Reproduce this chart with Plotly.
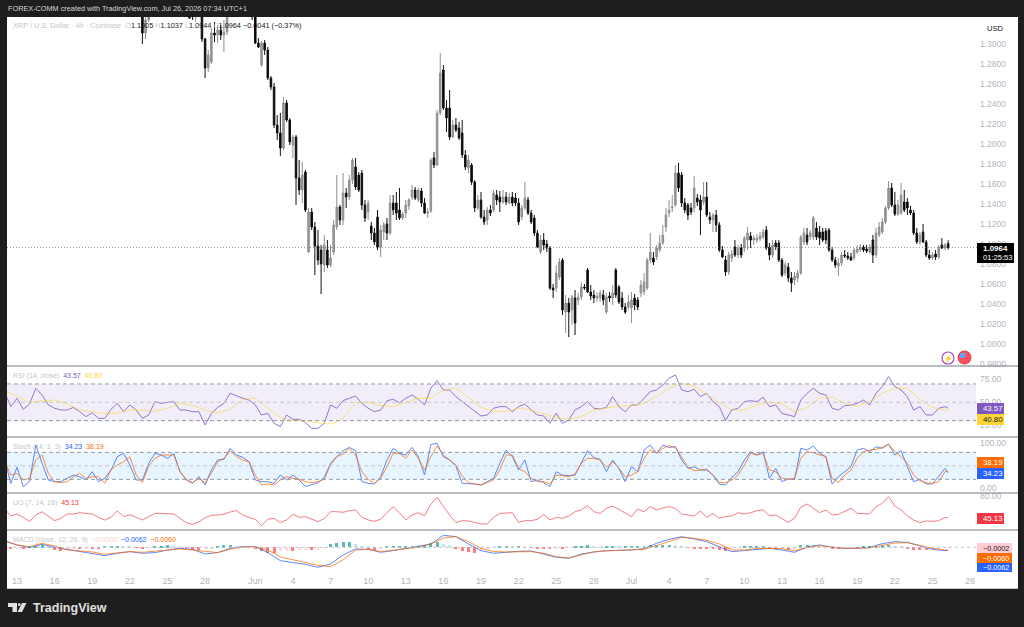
import pandas as pd
import plotly.graph_objects as go

# XRP / USD 4h chart with RSI, Stoch, UO and MACD panes.

#%% Candles (one every 6 h from May 23, the first ones are above the visible range)

candle_open = [
    1.335, 1.311, 1.324, 1.33, 1.34, 1.345, 1.35, 1.355, 1.36, 1.365, 1.36, 1.355, 1.35, 1.345, 1.34, 1.335, 1.33, 1.33, 1.335, 1.334,
    1.305, 1.276, 1.282, 1.311, 1.309, 1.314, 1.309, 1.312, 1.33, 1.345, 1.355, 1.36, 1.355, 1.35, 1.345, 1.335, 1.33, 1.301, 1.279, 1.301,
    1.294, 1.266, 1.257, 1.219, 1.211, 1.196, 1.241, 1.224, 1.199, 1.207, 1.166, 1.154, 1.172, 1.092, 1.132, 1.117, 1.098, 1.094, 1.079, 1.094,
    1.079, 1.092, 1.117, 1.137, 1.124, 1.151, 1.147, 1.164, 1.177, 1.169, 1.171, 1.139, 1.132, 1.118, 1.111, 1.127, 1.097, 1.112, 1.12, 1.111,
    1.141, 1.141, 1.134, 1.126, 1.131, 1.138, 1.147, 1.154, 1.144, 1.153, 1.141, 1.131, 1.133, 1.186, 1.179, 1.231, 1.274, 1.236, 1.236, 1.207,
    1.219, 1.216, 1.211, 1.189, 1.176, 1.179, 1.162, 1.136, 1.144, 1.127, 1.124, 1.134, 1.134, 1.149, 1.147, 1.142, 1.147, 1.141, 1.147, 1.146,
    1.141, 1.127, 1.136, 1.144, 1.131, 1.126, 1.111, 1.092, 1.104, 1.1, 1.096, 1.056, 1.056, 1.067, 1.084, 1.032, 1.041, 1.034, 1.046, 1.044,
    1.047, 1.057, 1.074, 1.052, 1.049, 1.046, 1.046, 1.049, 1.032, 1.048, 1.046, 1.074, 1.057, 1.046, 1.037, 1.037, 1.036, 1.046, 1.044, 1.051,
    1.052, 1.056, 1.084, 1.086, 1.087, 1.094, 1.101, 1.117, 1.131, 1.136, 1.139, 1.171, 1.169, 1.141, 1.139, 1.136, 1.136, 1.146, 1.144, 1.142,
    1.147, 1.127, 1.124, 1.129, 1.119, 1.094, 1.084, 1.072, 1.086, 1.097, 1.089, 1.096, 1.096, 1.104, 1.108, 1.104, 1.104, 1.105, 1.107, 1.114,
    1.097, 1.089, 1.101, 1.101, 1.084, 1.071, 1.077, 1.066, 1.064, 1.066, 1.071, 1.102, 1.109, 1.107, 1.107, 1.116, 1.112, 1.112, 1.113, 1.114,
    1.094, 1.084, 1.078, 1.081, 1.089, 1.088, 1.087, 1.086, 1.092, 1.094, 1.097, 1.095, 1.092, 1.104, 1.089, 1.109, 1.112, 1.122, 1.136, 1.156,
    1.139, 1.13, 1.131, 1.142, 1.142, 1.134, 1.131, 1.111, 1.102, 1.112, 1.102, 1.089, 1.086, 1.09, 1.087, 1.099, 1.096, 1.1005,
]
candle_high = [
    1.34, 1.335, 1.34, 1.345, 1.35, 1.355, 1.36, 1.365, 1.37, 1.37, 1.365, 1.36, 1.355, 1.35, 1.345, 1.34, 1.34, 1.34, 1.345, 1.34,
    1.306, 1.294, 1.316, 1.322, 1.319, 1.319, 1.324, 1.335, 1.35, 1.36, 1.37, 1.37, 1.365, 1.36, 1.355, 1.34, 1.335, 1.306, 1.303, 1.304,
    1.297, 1.268, 1.261, 1.229, 1.231, 1.247, 1.244, 1.226, 1.209, 1.209, 1.184, 1.182, 1.174, 1.136, 1.136, 1.122, 1.114, 1.099, 1.109, 1.104,
    1.099, 1.124, 1.169, 1.139, 1.171, 1.156, 1.169, 1.186, 1.186, 1.172, 1.174, 1.144, 1.144, 1.122, 1.116, 1.134, 1.119, 1.122, 1.126, 1.149,
    1.149, 1.152, 1.156, 1.132, 1.144, 1.146, 1.159, 1.157, 1.156, 1.156, 1.146, 1.136, 1.186, 1.192, 1.234, 1.291, 1.279, 1.244, 1.254, 1.224,
    1.226, 1.222, 1.224, 1.194, 1.189, 1.181, 1.164, 1.149, 1.152, 1.134, 1.137, 1.139, 1.154, 1.154, 1.153, 1.154, 1.152, 1.151, 1.152, 1.151,
    1.146, 1.139, 1.162, 1.147, 1.134, 1.129, 1.114, 1.109, 1.111, 1.104, 1.098, 1.06, 1.079, 1.086, 1.086, 1.049, 1.046, 1.049, 1.054, 1.051,
    1.062, 1.06, 1.076, 1.059, 1.054, 1.052, 1.054, 1.054, 1.051, 1.052, 1.059, 1.076, 1.059, 1.052, 1.041, 1.049, 1.052, 1.05, 1.047, 1.064,
    1.071, 1.086, 1.111, 1.092, 1.099, 1.109, 1.119, 1.136, 1.144, 1.149, 1.179, 1.181, 1.172, 1.146, 1.141, 1.141, 1.168, 1.15, 1.149, 1.162,
    1.162, 1.132, 1.131, 1.134, 1.122, 1.098, 1.088, 1.092, 1.094, 1.104, 1.099, 1.1, 1.108, 1.117, 1.112, 1.109, 1.11, 1.112, 1.115, 1.118,
    1.101, 1.104, 1.104, 1.104, 1.086, 1.082, 1.081, 1.072, 1.072, 1.074, 1.109, 1.116, 1.116, 1.114, 1.128, 1.122, 1.118, 1.116, 1.116, 1.116,
    1.097, 1.087, 1.086, 1.092, 1.094, 1.092, 1.091, 1.096, 1.099, 1.1, 1.099, 1.099, 1.1, 1.109, 1.116, 1.122, 1.126, 1.138, 1.163, 1.161,
    1.152, 1.144, 1.161, 1.154, 1.146, 1.138, 1.134, 1.116, 1.112, 1.12, 1.104, 1.094, 1.092, 1.094, 1.099, 1.106, 1.101, 1.1037,
]
candle_low = [
    1.3, 1.305, 1.322, 1.33, 1.335, 1.34, 1.345, 1.35, 1.355, 1.355, 1.35, 1.345, 1.34, 1.335, 1.33, 1.325, 1.324, 1.322, 1.328, 1.302,
    1.266, 1.272, 1.28, 1.302, 1.301, 1.304, 1.292, 1.309, 1.328, 1.34, 1.35, 1.35, 1.345, 1.34, 1.33, 1.324, 1.3, 1.296, 1.277, 1.289,
    1.264, 1.254, 1.216, 1.204, 1.188, 1.194, 1.222, 1.199, 1.186, 1.139, 1.149, 1.141, 1.132, 1.091, 1.114, 1.069, 1.079, 1.05, 1.072, 1.076,
    1.077, 1.089, 1.114, 1.119, 1.119, 1.136, 1.144, 1.16, 1.154, 1.152, 1.134, 1.122, 1.124, 1.104, 1.099, 1.094, 1.087, 1.104, 1.104, 1.109,
    1.129, 1.124, 1.124, 1.124, 1.126, 1.134, 1.144, 1.144, 1.142, 1.137, 1.13, 1.126, 1.131, 1.176, 1.178, 1.229, 1.234, 1.212, 1.204, 1.206,
    1.212, 1.204, 1.186, 1.174, 1.171, 1.159, 1.132, 1.134, 1.125, 1.119, 1.119, 1.128, 1.132, 1.139, 1.132, 1.14, 1.139, 1.14, 1.138, 1.138,
    1.119, 1.124, 1.134, 1.129, 1.12, 1.108, 1.096, 1.09, 1.094, 1.092, 1.054, 1.046, 1.052, 1.064, 1.029, 1.011, 1.007, 1.019, 1.009, 1.039,
    1.044, 1.054, 1.051, 1.044, 1.041, 1.042, 1.042, 1.039, 1.03, 1.042, 1.039, 1.046, 1.04, 1.034, 1.03, 1.034, 1.021, 1.034, 1.034, 1.047,
    1.049, 1.054, 1.081, 1.079, 1.084, 1.092, 1.099, 1.112, 1.127, 1.132, 1.137, 1.152, 1.137, 1.131, 1.124, 1.129, 1.132, 1.138, 1.109, 1.139,
    1.127, 1.12, 1.112, 1.112, 1.092, 1.086, 1.068, 1.069, 1.082, 1.087, 1.086, 1.086, 1.092, 1.094, 1.096, 1.099, 1.101, 1.103, 1.105, 1.094,
    1.084, 1.086, 1.094, 1.082, 1.067, 1.068, 1.062, 1.052, 1.059, 1.062, 1.069, 1.099, 1.099, 1.104, 1.104, 1.104, 1.099, 1.102, 1.1, 1.092,
    1.082, 1.076, 1.068, 1.078, 1.086, 1.084, 1.083, 1.084, 1.09, 1.092, 1.092, 1.091, 1.09, 1.081, 1.086, 1.107, 1.11, 1.12, 1.134, 1.137,
    1.128, 1.128, 1.129, 1.132, 1.129, 1.129, 1.109, 1.1, 1.099, 1.101, 1.087, 1.084, 1.084, 1.084, 1.085, 1.095, 1.094, 1.0944,
]
candle_close = [
    1.311, 1.324, 1.33, 1.34, 1.345, 1.35, 1.355, 1.36, 1.365, 1.36, 1.355, 1.35, 1.345, 1.34, 1.335, 1.326, 1.328, 1.33, 1.34, 1.305,
    1.276, 1.289, 1.311, 1.309, 1.314, 1.309, 1.312, 1.33, 1.345, 1.355, 1.36, 1.355, 1.35, 1.345, 1.335, 1.327, 1.301, 1.297, 1.301, 1.294,
    1.266, 1.257, 1.219, 1.211, 1.196, 1.241, 1.224, 1.202, 1.207, 1.166, 1.154, 1.169, 1.134, 1.132, 1.117, 1.098, 1.084, 1.08, 1.099, 1.079,
    1.086, 1.119, 1.137, 1.124, 1.151, 1.147, 1.164, 1.184, 1.157, 1.154, 1.139, 1.126, 1.141, 1.111, 1.102, 1.097, 1.114, 1.119, 1.111, 1.141,
    1.134, 1.131, 1.126, 1.13, 1.139, 1.144, 1.154, 1.146, 1.154, 1.141, 1.131, 1.132, 1.184, 1.179, 1.231, 1.271, 1.236, 1.226, 1.207, 1.219,
    1.214, 1.206, 1.189, 1.177, 1.184, 1.162, 1.136, 1.144, 1.127, 1.122, 1.134, 1.131, 1.151, 1.144, 1.142, 1.147, 1.142, 1.147, 1.141, 1.141,
    1.122, 1.136, 1.146, 1.131, 1.122, 1.111, 1.097, 1.104, 1.099, 1.096, 1.056, 1.054, 1.071, 1.082, 1.034, 1.041, 1.032, 1.047, 1.021, 1.047,
    1.057, 1.056, 1.052, 1.048, 1.046, 1.048, 1.051, 1.044, 1.047, 1.046, 1.051, 1.049, 1.042, 1.037, 1.032, 1.042, 1.044, 1.039, 1.037, 1.059,
    1.062, 1.084, 1.092, 1.082, 1.096, 1.101, 1.109, 1.129, 1.134, 1.137, 1.171, 1.156, 1.141, 1.134, 1.129, 1.132, 1.156, 1.142, 1.134, 1.147,
    1.129, 1.124, 1.129, 1.119, 1.094, 1.087, 1.072, 1.089, 1.09, 1.089, 1.096, 1.089, 1.106, 1.111, 1.104, 1.106, 1.106, 1.108, 1.112, 1.096,
    1.089, 1.099, 1.097, 1.084, 1.069, 1.079, 1.066, 1.061, 1.068, 1.071, 1.107, 1.111, 1.102, 1.111, 1.126, 1.107, 1.106, 1.104, 1.104, 1.094,
    1.084, 1.079, 1.081, 1.089, 1.088, 1.086, 1.084, 1.094, 1.095, 1.097, 1.094, 1.093, 1.097, 1.089, 1.111, 1.117, 1.122, 1.136, 1.156, 1.139,
    1.13, 1.139, 1.149, 1.134, 1.136, 1.131, 1.111, 1.102, 1.109, 1.102, 1.089, 1.086, 1.089, 1.087, 1.097, 1.096, 1.099, 1.0964,
]

#%% Indicators (12 h steps from May 12, smooth lines in 1 day steps)

rsi = [
    61.6, 45.3, 54.4, 42.4, 48.2, 65.3, 58, 47.1, 43.5, 41.6, 41.6, 44.5, 39.8, 34.4, 38.7, 32.5, 32.5, 42.4, 48.9, 39.8,
    47.1, 41.6, 32.5, 36.1, 50.7, 48.9, 50, 50.7, 41.6, 41.6, 39.8, 39.8, 25.3, 38, 44.5, 48.9, 59.8, 56.9, 54.4, 52.5,
    47.1, 36.2, 38, 27.1, 23.5, 36.2, 31.5, 31.5, 27.8, 21.6, 21.6, 27.1, 47.1, 43.5,
    51.8, 54.4, 56.9, 48.9, 43.5, 39.8, 41.6, 51.8, 53.3, 49.6, 54.4, 58, 53.3, 47.1, 65.3, 73.6, 63.5, 63.5, 56.2, 50.7,
    45.3, 39.8, 35.1, 36.2, 43.5, 45.3, 45.3, 39.8, 45.3, 48.2, 41.6, 36.2, 35.1, 27.1, 38, 27.1, 30.7, 41.6, 45.3, 50.7,
    43.5, 42.7, 44.5, 56.2, 45.3, 39.8, 47.1, 47.1, 54.4, 61.6, 63.5, 68.9, 76.2, 79.8,
    63.5, 61.6, 64.2, 56.2, 59.8, 50.7, 45.3, 30, 41.6, 43.5, 50.7, 51.8, 50.7, 55.5, 45.3, 47.1, 38, 36.2, 34.4, 52.5,
    59.8, 65.3, 59.8, 58, 43.5, 41.6, 46.4, 47.1, 48.9, 52.5, 47.1, 59.8, 67.1, 78, 67.1, 63.5, 56.2, 41.6, 45.3, 36.2,
    36.2, 43.5, 45.3, 43.57,
]
rsi_ma = [
    62.7, 56.2, 50, 51.5, 52.5, 48.2, 41.6, 39.5, 38, 38, 41.6, 41.6, 40.5, 43.5, 48.9, 46.4, 41.6, 38.7, 42.4, 53.3,
    54.4, 43.5, 33.6, 30, 30, 27.8, 26.4,
    32.5, 49.6, 50, 46.4, 45.3, 49.6, 54.4, 54.4, 63.5, 65.3, 55.5, 44.5, 40.5, 39.8, 43.5, 41.6, 37.3, 33.3, 31.5, 34.4,
    41.6, 44.2, 46, 46, 48.9, 56.2, 65.3,
    70.7, 67.8, 58.7, 49.6, 41.6, 41.6, 47.1, 50, 48.2, 39.8, 44.2, 54.4, 55.5, 48.9, 46, 50.7, 59.8, 65.3, 65.3, 53.3,
    44.5, 40.9, 40.8,
]
stoch_k = [
    66.7, 11.1, 46.7, 3.7, 14.8, 96.3, 55.6, 18.5, 14.8, 14.8, 22.2, 29.6, 25.9, 18.5, 37, 14.8, 22.2, 40.7, 70.4, 77.8,
    51.9, 18.5, 18.5, 55.6, 77.8, 74.1, 66.7, 77.8, 37, 18.5, 11.1, 25.9, 7.4, 40.7, 63, 64.4, 88.9, 74.1, 68.9, 59.3,
    18.5, 14.8, 14.8, 11.1, 29.6, 18.5, 29.6, 18.5, 3.7, 7.4, 12.6, 24.4, 55.6, 70.4,
    83.7, 91.1, 83.7, 14.8, 11.1, 9.6, 25.9, 63, 88.9, 77.8, 74.1, 91.1, 70.4, 29.6, 97.8, 100, 70.4, 63, 49.6, 11.1,
    11.1, 9.6, 7.4, 14.8, 22.2, 55.6, 85.2, 70.4, 40.7, 63, 14.8, 18.5, 12.6, 3.7, 37, 29.6, 28.1, 29.6, 55.6, 83.7,
    68.1, 64.4, 37, 63, 44.4, 14.8, 48.1, 37, 85.2, 96.3, 77.8, 96.3, 91.1, 92.6,
    63, 44.4, 48.1, 40.7, 40.7, 29.6, 9.6, 7.4, 24.4, 37, 63, 81.5, 74.1, 81.5, 22.2, 44.4, 14.8, 20.7, 20, 88.9,
    85.2, 94.1, 77.8, 70.4, 9.6, 25.9, 37, 48.1, 85.2, 88.9, 81.5, 92.6, 88.9, 98.5, 74.1, 83.7, 48.1, 14.8, 20, 9.6,
    9.6, 25.9, 44.4, 34.23,
]
stoch_d = [
    63, 29.6, 33.3, 18.5, 22.2, 63, 74.1, 33.3, 14.8, 12.6, 14.8, 25.9, 33.3, 22.2, 25.9, 25.9, 11.1, 42.2, 51.9, 59.3,
    70.4, 29.6, 12.6, 49.6, 66.7, 74.1, 74.1, 74.1, 37, 20, 12.6, 22.2, 12.6, 33.3, 59.3, 66.7, 83.7, 70.4, 63, 59.3,
    29.6, 7.4, 9.6, 7.4, 18.5, 25.9, 22.2, 20, 14.8, 12.6, 14.8, 20, 51.9, 70.4,
    76.3, 88.9, 74.1, 37, 20, 11.1, 22.2, 48.1, 77.8, 77.8, 66.7, 85.2, 66.7, 40.7, 70.4, 94.1, 74.1, 63, 51.9, 27.4,
    12.6, 9.6, 7.4, 12.6, 18.5, 40.7, 74.1, 74.1, 44.4, 37, 22.2, 14.8, 14.8, 9.6, 29.6, 28.1, 25.9, 31.9, 55.6, 66.7,
    66.7, 63, 46.7, 59.3, 44.4, 25.9, 29.6, 37, 66.7, 85.2, 79.3, 88.9, 94.8, 91.1,
    70.4, 46.7, 39.3, 40.7, 43, 29.6, 12.6, 12.6, 18.5, 29.6, 51.9, 77.8, 74.1, 77.8, 40.7, 37, 22.2, 20, 22.2, 66.7,
    81.5, 79.3, 74.1, 70.4, 22.2, 12.6, 29.6, 40.7, 66.7, 81.5, 85.2, 86.7, 91.1, 98.5, 81.5, 70.4, 55.6, 29.6, 17, 12.6,
    11.1, 14.8, 37, 38.19,
]
uo = [
    60.4, 48.3, 51.4, 46.1, 39.3, 49.8, 55.1, 47.2, 40.8, 44.6, 51.4, 51.4, 53.5, 52.4, 51.4, 46.1, 41.9, 46.1, 56.7, 47.2,
    50.4, 46.1, 41.9, 47.2, 52.4, 52.4, 51.4, 51.4, 44.6, 37.7, 35, 38.7, 45.6, 49.3, 49.8, 50.9, 54.6, 56.7, 49.8, 45.6,
    43, 32.9, 43, 44.6, 37.7, 41.9, 50.9, 46.1, 47.2, 43, 39.3, 44, 55.1, 55.1,
    54.1, 56.7, 57.8, 46.1, 41.9, 39.8, 43, 53.5, 63.1, 53.5, 41.9, 49.8, 53.5, 48.3, 66.8, 77.9, 63.1, 49.8, 37.7, 40.8,
    40.3, 37.7, 35.6, 35.6, 46.1, 52.4, 53.5, 53.5, 38.2, 40.8, 40.8, 43, 50.9, 41.9, 46.1, 44.6, 48.3, 55.1, 57.8, 64.7,
    55.1, 52.4, 60.4, 64.1, 58.8, 52.4, 47.2, 59.4, 55.1, 63.1, 57.8, 61, 63.1, 60.4,
    51.4, 49.8, 48.3, 56.2, 46.1, 52.4, 44.6, 47.2, 48.3, 53.5, 51.4, 53.5, 56.7, 57.8, 48.8, 49.8, 44.6, 38.2, 44.6, 62,
    67.3, 60.4, 53.5, 57.8, 49.8, 50.9, 56.2, 60.4, 52.4, 52.4, 51.4, 63.1, 68.4, 78.9, 64.1, 57.8, 48.3, 41.9, 37.7, 40.3,
    39.8, 40.8, 46.1, 45.13,
]
macd_line = [
    .0139, .0049, -.0007, .0063, 0, -.0042, -.0090, -.0125, -.0174, -.0125, -.0090, -.0125, -.0111, -.0056, -.0021, -.0042,
    -.0139, -.0111, -.0021, .0014, .0014, -.0111, -.0278, -.0319, -.0354, -.0417, -.0347,
    -.0160, -.0035, -.0042, -.0104, -.0069, -.0021, .0028, .0069, .0250, .0222, .0069, -.0069, -.0125, -.0097, -.0083, -.0076,
    -.0139, -.0208, -.0229, -.0139, -.0097, -.0069, -.0063, -.0056, -.0028, .0083, .0167,
    .0222, .0174, .0118, .0014, -.0090, -.0069, -.0042, -.0021, -.0056, -.0104, .0007, .0049, 0, -.0021, -.0021, 0,
    .0076, .0118, .0104, .0035, -.0042, -.0069, -.0062,
]
macd_signal = [
    .0125, .0049, .0014, .0083, .0028, -.0056, -.0076, -.0097, -.0146, -.0125, -.0090, -.0104, -.0076, -.0049, -.0035, -.0056,
    -.0090, -.0111, -.0042, .0007, .0014, -.0056, -.0201, -.0264, -.0319, -.0375, -.0403,
    -.0264, -.0056, -.0042, -.0090, -.0056, -.0028, 0, .0069, .0194, .0222, .0118, -.0021, -.0090, -.0097, -.0090, -.0090,
    -.0125, -.0194, -.0222, -.0160, -.0097, -.0076, -.0063, -.0056, -.0042, .0035, .0118,
    .0208, .0188, .0146, .0069, -.0056, -.0056, -.0028, -.0021, -.0028, -.0069, -.0007, .0035, .0007, -.0021, -.0021, -.0014,
    .0042, .0090, .0097, .0035, -.0021, -.0056, -.0060,
]
macd_hist = [
    -.003, -.004, -.002, -.004, .001, .002, .004, .003, -.006, -.007, -.004, -.003, -.004, -.002, -.002, -.003, .001, .002, .003, .002,
    .001, -.001, -.004, -.003, .002, .003, .004, .002, .001, -.001, -.005, -.006, -.004, -.002, .002, .004, .004, .003, .001, -.001,
    -.003, -.008, -.011, -.011, -.008, -.007, -.007, -.006, -.005, -.006, -.005, -.001, .006, .009,
    .011, .011, .007, .003, -.004, -.006, -.003, .001, .002, .002, .002, .003, .003, .004, .010, .012, .007, .004, -.003, -.007,
    -.010, -.011, -.005, -.003, -.001, .002, .002, .001, .001, -.001, -.001, -.002, -.002, -.003, -.002, -.002, -.001, .001, .002, .004,
    .003, .002, .002, .002, .001, .001, .001, .002, .003, .004, .004, .004, .005, .004,
    .002, -.001, -.002, -.002, -.002, -.003, -.006, -.008, -.004, -.001, .001, .002, .002, .002, -.002, -.004, -.003, -.005, -.002, .004,
    .005, .004, .003, .001, -.003, -.004, -.002, -.001, -.001, .001, .001, .002, .004, .005, .002, .001, -.002, -.005, -.005, -.006,
    -.005, -.002, -.001, -.0002,
]

#%% Axis ticks and labels

date_ticks = ["2026-05-13", "2026-05-16", "2026-05-19", "2026-05-22", "2026-05-25", "2026-05-28", "2026-06-01", "2026-06-04",
              "2026-06-07", "2026-06-10", "2026-06-13", "2026-06-16", "2026-06-19", "2026-06-22", "2026-06-25", "2026-06-28",
              "2026-07-01", "2026-07-04", "2026-07-07", "2026-07-10", "2026-07-13", "2026-07-16", "2026-07-19", "2026-07-22",
              "2026-07-25", "2026-07-28"]
date_labels = ["13", "16", "19", "22", "25", "28", "Jun", "4", "7", "10", "13", "16", "19", "22", "25", "28", "Jul", "4", "7",
               "10", "13", "16", "19", "22", "25", "28"]
price_ticks = [0.98 + 0.02 * i for i in range(17)]
last_price = 1.0964

TV_FONT = "Liberation Sans"
AXIS_GREY = "#b2b5be"
SEP_GREY = "#787b86"
LEGEND_GREY = "#c4c6cc"


def px(x):
    return x / 1024


def py(y):
    return 1 - y / 627


def timed(start, freq, values):
    # last value of every indicator is the open 4h bar, Jul 26 06:00
    times = pd.date_range(start, periods=len(values), freq=freq)
    return times[:-1].append(pd.DatetimeIndex(["2026-07-26 06:00"]))


candle_times = pd.date_range("2026-05-23", periods=len(candle_close), freq="6h")
t_rsi, t_k, t_d = timed("2026-05-12", "12h", rsi), timed("2026-05-12", "12h", stoch_k), timed("2026-05-12", "12h", stoch_d)
t_uo, t_hist = timed("2026-05-12", "12h", uo), timed("2026-05-12", "12h", macd_hist)
t_ma = timed("2026-05-12", "1D", rsi_ma)
t_macd, t_sig = timed("2026-05-12", "1D", macd_line), timed("2026-05-12", "1D", macd_signal)

hist_colors = []
for i, v in enumerate(macd_hist):
    prev = macd_hist[i - 1] if i else 0
    if v >= 0:
        hist_colors.append("#26a69a" if v >= prev else "#b2dfdb")
    else:
        hist_colors.append("#ff5252" if v <= prev else "#ffcdd2")

#%% Traces

fig = go.Figure()
fig.add_trace(go.Candlestick(
    x=candle_times, open=candle_open, high=candle_high, low=candle_low, close=candle_close,
    increasing=dict(line=dict(color="#8f8f8f", width=1), fillcolor="#9a9a9a"),
    decreasing=dict(line=dict(color="#111111", width=1), fillcolor="#000000"),
    whiskerwidth=0, yaxis="y",
))
fig.add_trace(go.Scatter(x=t_rsi, y=rsi, yaxis="y2", mode="lines", opacity=0.8, line=dict(color="#7e57c2", width=1)))
fig.add_trace(go.Scatter(x=t_ma, y=rsi_ma, yaxis="y2", mode="lines", opacity=0.6, line=dict(color="#fdd835", width=1)))
fig.add_trace(go.Scatter(x=t_k, y=stoch_k, yaxis="y3", mode="lines", opacity=0.75, line=dict(color="#2962ff", width=1)))
fig.add_trace(go.Scatter(x=t_d, y=stoch_d, yaxis="y3", mode="lines", opacity=0.75, line=dict(color="#ff6d00", width=1)))
fig.add_trace(go.Scatter(x=t_uo, y=uo, yaxis="y4", mode="lines", opacity=0.65, line=dict(color="#f23645", width=1)))
fig.add_trace(go.Bar(x=t_hist, y=macd_hist, yaxis="y5", opacity=0.75, marker=dict(color=hist_colors, line=dict(width=0)),
                     width=2.0e7))
fig.add_trace(go.Scatter(x=t_macd, y=macd_line, yaxis="y5", mode="lines", opacity=0.75, line=dict(color="#2962ff", width=1)))
fig.add_trace(go.Scatter(x=t_sig, y=macd_signal, yaxis="y5", mode="lines", opacity=0.75, line=dict(color="#ff6d00", width=1)))

#%% Shapes: frame, separators, bands

shapes = [dict(type="rect", xref="paper", yref="paper", x0=px(7), x1=px(1018), y0=py(589), y1=py(17),
               fillcolor="#ffffff", line=dict(width=0), layer="below")]
for sep_y in [366, 437, 493, 530]:
    shapes.append(dict(type="line", xref="paper", yref="paper", x0=px(7), x1=px(1018), y0=py(sep_y), y1=py(sep_y),
                       line=dict(color=SEP_GREY, width=1.2)))
shapes.append(dict(type="line", xref="paper", yref="paper", x0=px(7), x1=px(1018), y0=py(588.5), y1=py(588.5),
                   line=dict(color="#c8c8c8", width=1)))
for axis, low, high, fill in [("y2", 30, 70, "rgba(126,87,194,0.1)"), ("y3", 20, 80, "rgba(33,150,243,0.1)")]:
    shapes.append(dict(type="rect", xref="paper", yref=axis, x0=px(7), x1=px(976), y0=low, y1=high,
                       fillcolor=fill, line=dict(width=0), layer="below"))
for axis, level in [("y2", 70), ("y2", 50), ("y2", 30), ("y3", 80), ("y3", 50), ("y3", 20)]:
    shapes.append(dict(type="line", xref="paper", yref=axis, x0=px(7), x1=px(976), y0=level, y1=level,
                       line=dict(color="#9598a1" if level != 50 else "#c4c6cc", width=1, dash="4px,3px")))
shapes.append(dict(type="line", xref="paper", yref="y", x0=px(7), x1=px(977), y0=last_price, y1=last_price,
                   line=dict(color="#777777", width=0.8, dash="1px,2px")))
shapes.append(dict(type="line", xref="paper", yref="y5", x0=px(7), x1=px(976), y0=0, y1=0,
                   line=dict(color="#c4c6cc", width=1, dash="3px,3px")))

# right hand value boxes
annotations = []


def value_box(text, y0, y1, fill, fg, x1=1004, size=7.8):
    shapes.append(dict(type="rect", xref="paper", yref="paper", x0=px(977), x1=px(x1), y0=py(y1), y1=py(y0),
                       fillcolor=fill, line=dict(width=0)))
    annotations.append(dict(xref="paper", yref="paper", x=px(981), y=py((y0 + y1) / 2), text=text,
                            showarrow=False, xanchor="left", yanchor="middle",
                            font=dict(size=size, color=fg, family=TV_FONT)))


value_box("43.57", 403, 414, "#7e57c2", "#ffffff")
value_box("40.80", 414, 425, "#fdd835", "#131722")
value_box("38.19", 457, 468, "#ff6d00", "#ffffff")
value_box("34.23", 468, 479, "#2962ff", "#ffffff")
value_box("45.13", 513, 524, "#f23645", "#ffffff")
value_box("−0.0002", 543, 553, "#ffcdd2", "#131722", 1012, 7.2)
value_box("−0.0060", 553, 563, "#ff6d00", "#ffffff", 1012, 7.2)
value_box("−0.0062", 563, 572, "#2962ff", "#ffffff", 1012, 7.2)

shapes.append(dict(type="rect", xref="paper", yref="paper", x0=px(977), x1=px(1014), y0=py(263), y1=py(243),
                   fillcolor="#000000", line=dict(width=0)))


def label(x, y, text, size=9, color="#131722", anchor="left", bold=False):
    annotations.append(dict(xref="paper", yref="paper", x=px(x), y=py(y), text=f"<b>{text}</b>" if bold else text,
                            showarrow=False, xanchor=anchor, yanchor="middle",
                            font=dict(size=size, color=color, family=TV_FONT)))


def sp(color, text):
    return f'<span style="color:{color}">{text}</span>'


label(981, 248.5, "1.0964", 8, "#ffffff", bold=True)
label(981, 258, "01:25:53", 7.6, "#ffffff")
label(985, 28, "USD", 7.5, "#131722")
label(6, 9, "FOREX-COMM created with TradingView.com, Jul 26, 2026 07:34 UTC+1", 7.3, "#d8d8d8")
label(11, 26, sp(LEGEND_GREY, "XRP / U.S. Dollar · 4h · Coinbase") + "  " + sp(LEGEND_GREY, "O") + "1.1005 " +
      sp(LEGEND_GREY, "H") + "1.1037 " + sp(LEGEND_GREY, "L") + "1.0944 " + sp(LEGEND_GREY, "C") +
      "1.0964 −0.0041 (−0.37%)", 7.3)
label(11, 376, sp(LEGEND_GREY, "RSI (14, close)") + "  " + sp("#7e57c2", "43.57") + "  " + sp("#fdd835", "40.80"), 7)
label(11, 447, sp(LEGEND_GREY, "Stoch (14, 1, 3)") + "  " + sp("#2962ff", "34.23") + "  " + sp("#ff6d00", "38.19"), 7)
label(11, 503, sp(LEGEND_GREY, "UO (7, 14, 28)") + "  " + sp("#f23645", "45.13"), 7)
label(11, 540, sp(LEGEND_GREY, "MACD (close, 12, 26, 9)") + "  " + sp("#ffcdd2", "−0.0002") + "  " +
      sp("#2962ff", "−0.0062") + "  " + sp("#ff6d00", "−0.0060"), 7)
label(31, 608, "TradingView", 12.5, "#e0e0e0", bold=True)

# TradingView logo and the two small badges
shapes.append(dict(type="path", xref="paper", yref="paper", fillcolor="#e0e0e0", line=dict(width=0),
                   path=f"M{px(8)},{py(603)} L{px(17)},{py(603)} L{px(17)},{py(612)} L{px(12.5)},{py(612)} L{px(12.5)},{py(607)} "
                        f"L{px(8)},{py(607)} Z"))
shapes.append(dict(type="path", xref="paper", yref="paper", fillcolor="#e0e0e0", line=dict(width=0),
                   path=f"M{px(22)},{py(603)} L{px(26.5)},{py(603)} L{px(22)},{py(612)} L{px(17.5)},{py(612)} Z"))
shapes.append(dict(type="circle", xref="paper", yref="paper", x0=px(18), x1=px(20.5), y0=py(606), y1=py(603),
                   fillcolor="#e0e0e0", line=dict(width=0)))
shapes.append(dict(type="circle", xref="paper", yref="paper", x0=px(942), x1=px(954), y0=py(364), y1=py(352),
                   fillcolor="#ffffff", line=dict(color="#ab47bc", width=1.2)))
shapes.append(dict(type="circle", xref="paper", yref="paper", x0=px(958), x1=px(971), y0=py(364), y1=py(351),
                   fillcolor="#f7525f", line=dict(color="#f23645", width=1)))
shapes.append(dict(type="rect", xref="paper", yref="paper", x0=px(960), x1=px(965), y0=py(358), y1=py(353),
                   fillcolor="#64a0ff", line=dict(width=0)))
label(948, 358, "⚡", 7, "#ab47bc", "center")

#%% Layout

X_RANGE = ["2026-05-12 04:52", "2026-07-28 15:10"]


def right_axis(top, bottom, lo, hi, ticks, fmt):
    return dict(domain=[py(bottom), py(top)], range=[lo, hi], anchor="free", position=px(979), side="right",
                tickvals=ticks, tickformat=fmt, showgrid=False, zeroline=False, showline=False, ticks="",
                tickfont=dict(size=8.5, color=AXIS_GREY, family=TV_FONT))


fig.update_layout(
    width=1024, height=627, autosize=False, margin=dict(l=0, r=0, t=0, b=0, autoexpand=False),
    paper_bgcolor="#1e1e1e", plot_bgcolor="rgba(0,0,0,0)", showlegend=False, bargap=0,
    shapes=shapes, annotations=annotations,
    xaxis=dict(domain=[px(7), px(978)], range=X_RANGE, type="date", anchor="free", position=py(574),
               rangeslider=dict(visible=False), tickvals=date_ticks, ticktext=date_labels, showgrid=False,
               zeroline=False, showline=False, ticks="", tickfont=dict(size=9, color=AXIS_GREY, family=TV_FONT)),
    yaxis=right_axis(17, 366, 0.978, 1.327, price_ticks, ".4f"),
    yaxis2=right_axis(367, 437, 12.2, 88.5, [25, 50, 75], ".2f"),
    yaxis3=right_axis(438, 493, -10.4, 112, [0, 100], ".2f"),
    yaxis4=right_axis(494, 530, 26, 83.2, [80], ".2f"),
    yaxis5=right_axis(531, 570, -0.0473, 0.034, [], ".4f"),
)

fig.write_html("out.html", config=dict(displayModeBar=False), post_script="document.body.style.margin='0';")
